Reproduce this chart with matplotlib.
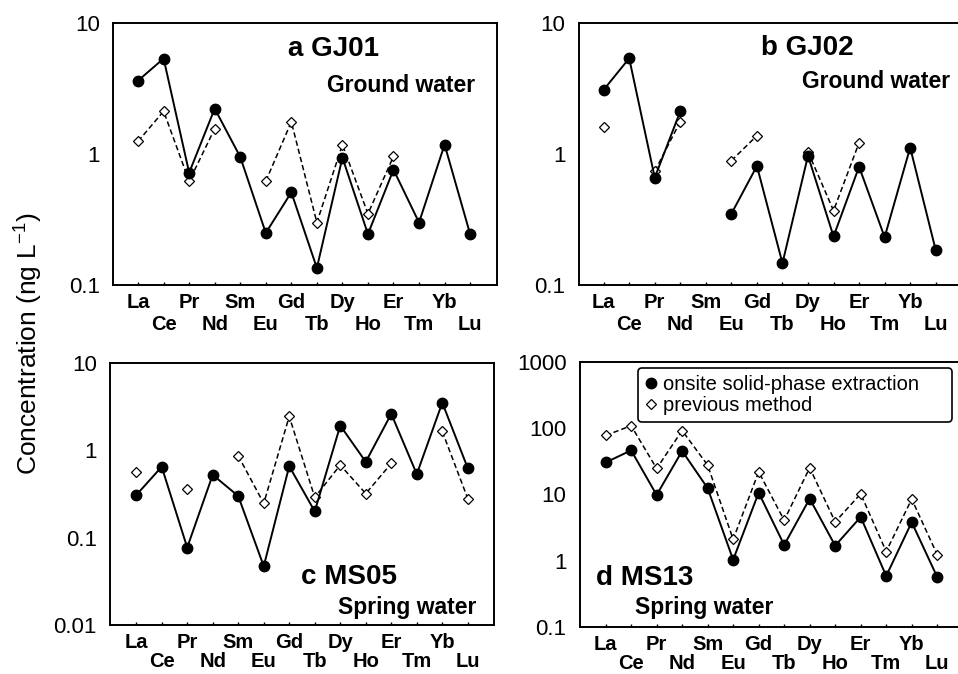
import numpy as np
import matplotlib
matplotlib.use('Agg')
import matplotlib.pyplot as plt
from matplotlib.lines import Line2D

plt.rcParams['font.family'] = ['Liberation Sans', 'DejaVu Sans']
plt.rcParams['mathtext.fontset'] = 'custom'
plt.rcParams['mathtext.rm'] = 'Liberation Sans'
plt.rcParams['mathtext.it'] = 'Liberation Sans:italic'

nan = np.nan
elements = ['La', 'Ce', 'Pr', 'Nd', 'Sm', 'Eu', 'Gd', 'Tb', 'Dy', 'Ho', 'Er', 'Tm', 'Yb', 'Lu']

# a GJ01
gj01_spe = [3.63, 5.35, 0.72, 2.22, 0.95, 0.25, 0.51, 0.135, 0.94, 0.245, 0.76, 0.30, 1.18, 0.245]
gj01_prev = [1.25, 2.12, 0.62, 1.56, nan, 0.62, 1.76, 0.30, 1.18, 0.35, 0.96, nan, nan, nan]
# b GJ02
gj02_spe = [3.09, 5.37, 0.66, 2.12, nan, 0.35, 0.81, 0.147, 0.97, 0.235, 0.80, 0.232, 1.12, 0.185]
gj02_prev = [1.60, nan, 0.74, 1.77, nan, 0.89, 1.38, nan, 1.04, 0.37, 1.22, nan, nan, nan]
# c MS05
ms05_spe = [0.307, 0.65, 0.077, 0.525, 0.30, 0.047, 0.66, 0.20, 1.93, 0.74, 2.63, 0.535, 3.53, 0.625]
ms05_prev = [0.56, nan, 0.36, nan, 0.87, 0.247, 2.46, 0.29, 0.68, 0.32, 0.71, nan, 1.65, 0.28]
# d MS13
ms13_spe = [30.3, 46.2, 9.8, 45.2, 12.4, 1.03, 10.6, 1.72, 8.6, 1.68, 4.56, 0.585, 3.8, 0.565]
ms13_prev = [77.5, 109, 24.6, 92, 27.6, 2.09, 21.9, 4.06, 25.2, 3.84, 10.2, 1.37, 8.5, 1.23]

panels = [
    (gj01_spe, gj01_prev, 'a GJ01', 'Ground water', (0.1, 10), [0.1, 1, 10], ['0.1', '1', '10']),
    (gj02_spe, gj02_prev, 'b GJ02', 'Ground water', (0.1, 10), [0.1, 1, 10], ['0.1', '1', '10']),
    (ms05_spe, ms05_prev, 'c MS05', 'Spring water', (0.01, 10), [0.01, 0.1, 1, 10], ['0.01', '0.1', '1', '10']),
    (ms13_spe, ms13_prev, 'd MS13', 'Spring water', (0.1, 1000), [0.1, 1, 10, 100, 1000], ['0.1', '1', '10', '100', '1000']),
]

# axes rectangles in figure fraction
rects = [
    [0.118, 0.577, 0.401, 0.389],
    [0.604, 0.577, 0.401, 0.389],
    [0.115, 0.073, 0.401, 0.388],
    [0.605, 0.070, 0.401, 0.393],
]
xlims = [(-0.98, 14.06), (-0.98, 14.06), (-1.02, 14.04), (-1.02, 14.04)]
minor_pad = [21.5, 21.5, 19.5, 19.5]

# text positions (axes fraction)
title_pos = [(0.573, 0.90, 'center'), (0.594, 0.905, 'center'), (0.621, 0.183, 'center'), (0.042, 0.183, 'left')]
sub_pos = [(0.943, 0.763, 'right'), (0.966, 0.776, 'right'), (0.953, 0.065, 'right'), (0.143, 0.072, 'left')]

fig = plt.figure(figsize=(9.58, 6.74), dpi=100)

x = np.arange(len(elements))
x_top = x[0::2]
x_bot = x[1::2]

for i, (spe, prev, title, sub, ylim, yt, ytl) in enumerate(panels):
    ax = fig.add_axes(rects[i])
    ax.plot(x, prev, color='black', ls=(0, (3.5, 2)), lw=1.1, marker='D', ms=5.4,
            mfc='white', mec='black', mew=0.9, zorder=3)
    ax.plot(x, spe, color='black', ls='-', lw=1.4, marker='o', ms=7.5,
            mfc='black', mec='black', zorder=4)
    ax.set_yscale('log')
    ax.set_ylim(*ylim)
    ax.set_xlim(*xlims[i])
    ax.set_yticks(yt)
    ax.set_yticklabels(ytl, fontsize=16)
    ax.yaxis.set_minor_locator(matplotlib.ticker.NullLocator())
    ax.tick_params(axis='y', length=0, pad=9.5)

    # element labels staggered on two rows
    ax.set_xticks(x_top)
    ax.set_xticklabels(elements[0::2], fontsize=14.5, fontweight='bold')
    ax.set_xticks(x_bot, minor=True)
    ax.set_xticklabels(elements[1::2], minor=True, fontsize=14.5, fontweight='bold')
    ax.tick_params(axis='x', which='major', direction='in', length=2.5, width=1, pad=6)
    ax.tick_params(axis='x', which='minor', direction='in', length=2.5, width=1, pad=minor_pad[i])
    for s in ax.spines.values():
        s.set_linewidth(1.4)

    tx, ty, ha = title_pos[i]
    ax.text(tx, ty, title, transform=ax.transAxes, fontsize=20, fontweight='bold',
            ha=ha, va='center')
    sx, sy, ha = sub_pos[i]
    ax.text(sx, sy, sub, transform=ax.transAxes, fontsize=16.5, fontweight='bold',
            ha=ha, va='center')

    if i == 3:
        handles = [
            Line2D([], [], ls='none', marker='o', ms=7.5, mfc='black', mec='black'),
            Line2D([], [], ls='none', marker='D', ms=5.4, mfc='white', mec='black', mew=0.9),
        ]
        leg = ax.legend(handles, ['onsite solid-phase extraction', 'previous method'],
                        loc='upper left', bbox_to_anchor=(0.151, 0.978, 0.818, 0.0),
                        mode='expand', fontsize=14.5,
                        handlelength=0.6, handletextpad=0.3, borderpad=0.35,
                        labelspacing=0.1, frameon=True, fancybox=True, framealpha=1,
                        borderaxespad=0)
        leg.get_frame().set_edgecolor('black')
        leg.get_frame().set_linewidth(1.2)

fig.text(0.03, 0.49, 'Concentration (ng L$^{-1}$)', rotation=90, fontsize=19,
         ha='center', va='center')

plt.savefig('out.png', dpi=100)
